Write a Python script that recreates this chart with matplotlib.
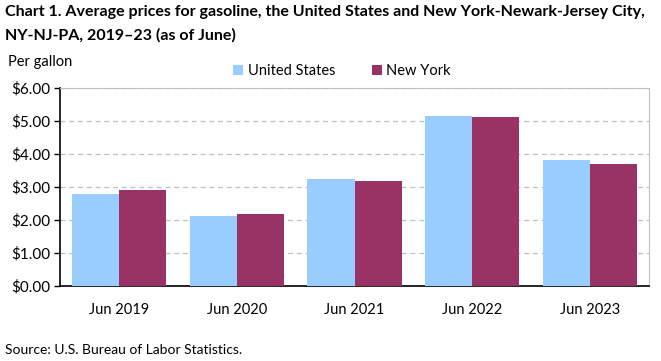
import numpy as np
import matplotlib.pyplot as plt
from matplotlib.ticker import FuncFormatter

# values (dollars per gallon)
years = ['Jun 2019', 'Jun 2020', 'Jun 2021', 'Jun 2022', 'Jun 2023']
us_prices = [2.79, 2.12, 3.24, 5.15, 3.82]
ny_prices = [2.91, 2.18, 3.18, 5.12, 3.70]

plt.rcParams['font.family'] = ['Lato', 'DejaVu Sans']

fig = plt.figure(figsize=(6.61, 3.61), dpi=100)
ax = fig.add_axes([60 / 661, 75 / 361, 589 / 661, 198 / 361])

x = np.arange(len(years))
w = 0.4
ax.bar(x - w / 2, us_prices, w, color='#99CCFF', label='United States', zorder=3)
ax.bar(x + w / 2, ny_prices, w, color='#993366', label='New York', zorder=3)

ax.set_xlim(-0.5, len(years) - 0.5)
ax.set_ylim(0, 6)
ax.set_yticks(np.arange(0, 7, 1))
ax.yaxis.set_major_formatter(FuncFormatter(lambda v, p: '${:.2f}'.format(v)))
ax.set_xticks(x)
ax.set_xticklabels(years)
ax.tick_params(axis='x', length=0, pad=12, labelsize=10.5)
ax.tick_params(axis='y', length=4, width=1, direction='out', labelsize=11, pad=3)

ax.grid(axis='y', color='#BFBFBF', linestyle=(0, (4, 3)), linewidth=0.9, zorder=0)

ax.spines['left'].set_color('black')
ax.spines['bottom'].set_color('black')
ax.spines['left'].set_linewidth(1.2)
ax.spines['bottom'].set_linewidth(1.2)
ax.spines['top'].set_color('#BFBFBF')
ax.spines['right'].set_color('#BFBFBF')

fig.text(5 / 661, 1 - 12 / 361, 'Chart 1. Average prices for gasoline, the United States and New York-Newark-Jersey City,',
         fontsize=11.5, fontweight='bold', va='center', ha='left')
fig.text(5 / 661, 1 - 35 / 361, 'NY-NJ-PA, 2019\u201323 (as of June)',
         fontsize=11.5, fontweight='bold', va='center', ha='left')
fig.text(8 / 661, 1 - 62 / 361, 'Per gallon', fontsize=10.5, va='center', ha='left')
fig.text(5 / 661, 1 - 350 / 361, 'Source: U.S. Bureau of Labor Statistics.', fontsize=10, va='center', ha='left')

fig.legend(loc='center', bbox_to_anchor=(342 / 661, 1 - 71 / 361), ncol=2, frameon=False,
           fontsize=10.5, handlelength=0.7, handleheight=0.7, columnspacing=2.5, handletextpad=0.3)

fig.savefig('out.png', dpi=100)
